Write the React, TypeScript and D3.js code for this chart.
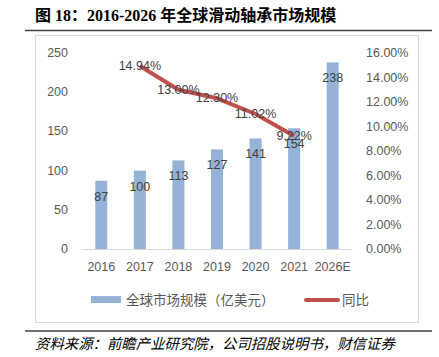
import React from "react";
import * as d3 from "d3";

const categories = ["2016", "2017", "2018", "2019", "2020", "2021", "2026E"];
const marketSize = [87, 100, 113, 127, 141, 154, 238];
const yoyYears = ["2017", "2018", "2019", "2020", "2021"];
const yoyValues = [0.1494, 0.13, 0.123, 0.1102, 0.0922];
const leftTicks = [0, 50, 100, 150, 200, 250];
const rightTicks = [0, 0.02, 0.04, 0.06, 0.08, 0.1, 0.12, 0.14, 0.16];

const W = 439;
const H = 357;
const FONT = "'Liberation Sans', 'Noto Sans CJK SC', sans-serif";
const TXT = "#595959";

export default function App() {
  const x = d3.scaleBand<string>().domain(categories).range([82, 352]);
  const yL = d3.scaleLinear().domain([0, 250]).range([249, 53]);
  const yR = d3.scaleLinear().domain([0, 0.16]).range([249, 53]);
  const barW = 12;
  const cx = (c: string) => (x(c) as number) + x.bandwidth() / 2;
  const lineGen = d3
    .line<number>()
    .x((_, i) => cx(yoyYears[i]))
    .y((d) => yR(d));

  return (
    <svg
      width={W}
      height={H}
      style={{ position: "absolute", left: 0, top: 0, background: "#fff" }}
      fontFamily={FONT}
    >
      <rect x={0} y={0} width={W} height={H} fill="#fff" />
      {/* title */}
      <text
        x={35}
        y={15}
        dominantBaseline="central"
        fontFamily="'Liberation Serif', 'Noto Sans CJK SC', serif"
        fontWeight="bold"
        fontSize={16}
        fill="#000"
      >
        图 18：2016-2026 年全球滑动轴承市场规模
      </text>
      <line x1={25} x2={432} y1={30.5} y2={30.5} stroke="#404040" strokeWidth={1.5} />
      {/* frame */}
      <rect x={35.5} y={35.5} width={383} height={287} fill="#fff" stroke="#D9D9D9" strokeWidth={1} />
      {/* bars */}
      {categories.map((c, i) => (
        <rect
          key={c}
          x={cx(c) - barW / 2}
          y={yL(marketSize[i])}
          width={barW}
          height={yL(0) - yL(marketSize[i])}
          fill="#95B3D7"
        />
      ))}
      {/* axis line */}
      <line x1={82} x2={352} y1={249.5} y2={249.5} stroke="#D9D9D9" strokeWidth={1} />
      {/* left ticks */}
      {leftTicks.map((t) => (
        <text key={t} x={68} y={yL(t)} textAnchor="end" dominantBaseline="central" fontSize={12.5} fill={TXT}>
          {t}
        </text>
      ))}
      {/* right ticks */}
      {rightTicks.map((t) => (
        <text key={t} x={366} y={yR(t)} textAnchor="start" dominantBaseline="central" fontSize={12.5} fill={TXT}>
          {(t * 100).toFixed(2) + "%"}
        </text>
      ))}
      {/* x labels */}
      {categories.map((c) => (
        <text key={c} x={cx(c)} y={267} textAnchor="middle" dominantBaseline="central" fontSize={12.5} fill={TXT}>
          {c}
        </text>
      ))}
      {/* bar labels */}
      {categories.map((c, i) => (
        <text
          key={c}
          x={cx(c)}
          y={yL(marketSize[i]) + 16}
          textAnchor="middle"
          dominantBaseline="central"
          fontSize={12.5}
          fill="#404040"
        >
          {marketSize[i]}
        </text>
      ))}
      {/* line */}
      <path d={lineGen(yoyValues) || ""} fill="none" stroke="#C0504D" strokeWidth={4} strokeLinejoin="round" />
      {yoyValues.map((v, i) => (
        <text
          key={i}
          x={cx(yoyYears[i])}
          y={yR(v)}
          textAnchor="middle"
          dominantBaseline="central"
          fontSize={12.5}
          fill="#404040"
        >
          {(v * 100).toFixed(2) + "%"}
        </text>
      ))}
      {/* legend */}
      <rect x={91} y={296} width={30} height={7} fill="#95B3D7" />
      <text x={126} y={300} dominantBaseline="central" fontSize={13.5} fill={TXT}>
        全球市场规模（亿美元）
      </text>
      <line x1={306} x2={338} y1={300} y2={300} stroke="#C0504D" strokeWidth={4} strokeLinecap="round" />
      <text x={342} y={300} dominantBaseline="central" fontSize={13.5} fill={TXT}>
        同比
      </text>
      {/* bottom rule + source */}
      <line x1={25} x2={432} y1={331} y2={331} stroke="#404040" strokeWidth={1.5} />
      <text x={35} y={344} dominantBaseline="central" fontSize={14.4} fontStyle="italic" fill="#000">
        资料来源：前瞻产业研究院，公司招股说明书，财信证券
      </text>
    </svg>
  );
}
